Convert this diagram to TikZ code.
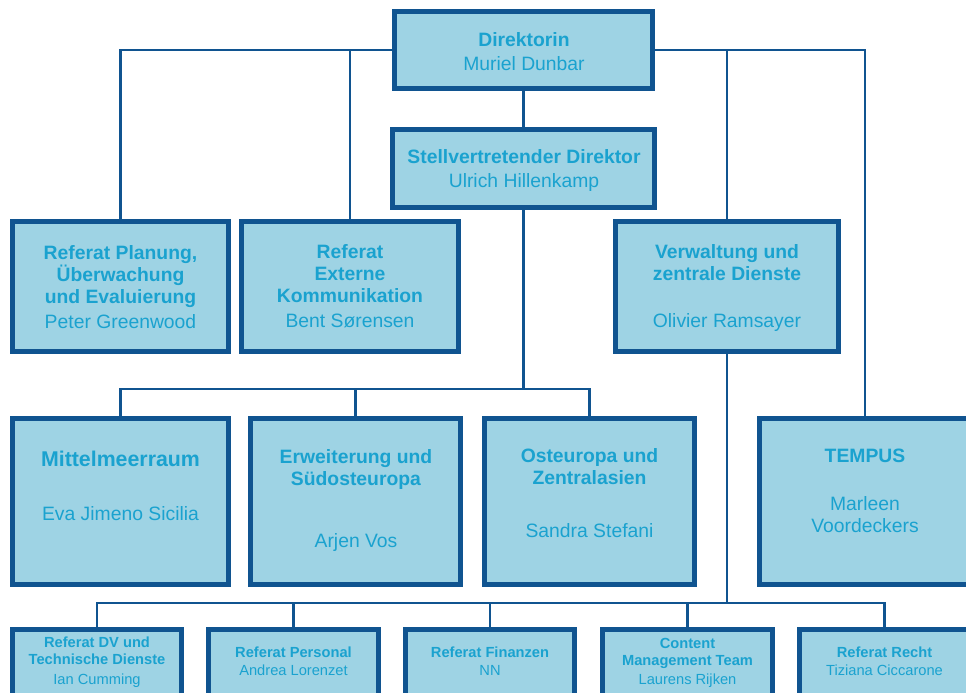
\documentclass[tikz,border=0pt]{standalone}
\usepackage{fontspec}
\setmainfont{Liberation Sans}
\usetikzlibrary{backgrounds,positioning}
\definecolor{orgline}{RGB}{16,84,144}
\definecolor{orgfill}{RGB}{158,211,228}
\definecolor{orgtext}{RGB}{26,162,207}
\tikzset{
  org box/.style 2 args={draw=orgline,fill=orgfill,line width=3.4pt,inner sep=0pt,
    minimum width={#1*0.75pt-3.4pt},minimum height={#2*0.75pt-3.4pt}},
  org link/.style={draw=orgline,line width=2pt},
  org text/.style={text=orgtext,align=center,inner sep=0pt,font=\fontsize{14.5}{16.5}\selectfont},
  org small/.style={text=orgtext,align=center,inner sep=0pt,font=\fontsize{11}{12.75}\selectfont}
}
\begin{document}
\begin{tikzpicture}[x=0.75pt,y=-0.75pt]
  \useasboundingbox (0,0) rectangle (966,692);
  \clip (0,0) rectangle (966,692);
  % leitung
  \node[org box={263}{82}] (dir) at (523.5,50) {};
  \node[org text] (dir-t) at (524,51.5) {\textbf{Direktorin}\\[1pt]Muriel Dunbar};
  \node[org box={267}{83}] (stv) at (523.5,168.5) {};
  \node[org text] (stv-t) at (524,170.5) {\textbf{Stellvertretender Direktor}\\[1pt]Ulrich Hillenkamp};
  % referate oben
  \node[org box={221}{135}] (plan) at (120.5,286.5) {};
  \node[org text] (plan-t) at (120.5,287) {\textbf{Referat Planung,}\\\textbf{Überwachung}\\\textbf{und Evaluierung}\\[2.5pt]Peter Greenwood};
  \node[org box={222}{135}] (ext) at (350,286.5) {};
  \node[org text] (ext-t) at (350,286) {\textbf{Referat}\\\textbf{Externe}\\\textbf{Kommunikation}\\[2.5pt]Bent Sørensen};
  \node[org box={228}{135}] (verw) at (727,286.5) {};
  \node[org text] (verw-t) at (727,287.5) {\textbf{Verwaltung und}\\\textbf{zentrale Dienste}\\[18.75pt]Olivier Ramsayer};
  % regionen
  \node[org box={221}{171}] (mit) at (120.5,501.5) {};
  \node[org text] (mit-t) at (120.5,485.5) {\textbf{\fontsize{16}{18}\selectfont Mittelmeerraum}\\[24pt]Eva Jimeno Sicilia};
  \node[org box={215}{171}] (erw) at (355.5,501.5) {};
  \node[org text] (erw-t) at (356,500) {\textbf{Erweiterung und}\\\textbf{Südosteuropa}\\[30pt]Arjen Vos};
  \node[org box={215}{171}] (ost) at (589.5,501.5) {};
  \node[org text] (ost-t) at (589.5,493) {\textbf{Osteuropa und}\\\textbf{Zentralasien}\\[23.25pt]Sandra Stefani};
  \node[org box={216}{171}] (tem) at (865,501.5) {};
  \node[org text] (tem-t) at (865,491) {\textbf{TEMPUS}\\[19.5pt]Marleen\\Voordeckers};
  % referate unten
  \node[org box={174}{76}] (dv) at (97,665) {};
  \node[org small] (dv-t) at (97,662.5) {\textbf{Referat DV und}\\\textbf{Technische Dienste}\\[2.25pt]Ian Cumming};
  \node[org box={175}{76}] (pers) at (293.5,665) {};
  \node[org small] (pers-t) at (293.5,661.5) {\textbf{Referat Personal}\\[0.75pt]Andrea Lorenzet};
  \node[org box={174}{76}] (fin) at (490,665) {};
  \node[org small] (fin-t) at (490,661.5) {\textbf{Referat Finanzen}\\[0.75pt]NN};
  \node[org box={175}{76}] (cmt) at (687.5,665) {};
  \node[org small] (cmt-t) at (687.5,662.5) {\textbf{Content}\\\textbf{Management Team}\\[1.5pt]Laurens Rijken};
  \node[org box={175}{76}] (recht) at (884.5,665) {};
  \node[org small] (recht-t) at (884.5,661.5) {\textbf{Referat Recht}\\[0.75pt]Tiziana Ciccarone};
  \coordinate (bus2) at (523.5,389);
  \coordinate (bus3) at (727,603);
  \begin{scope}[on background layer]
    \draw[org link] (plan.north) |- (dir.west);
    \draw[org link] (dir.east) -| (tem.north);
    \draw[org link] (ext.north) -- (ext.north |- dir.west);
    \draw[org link] (verw.north) -- (verw.north |- dir.east);
    \draw[org link] (dir.south) -- (stv.north);
    \draw[org link] (stv.south) -- (bus2);
    \draw[org link] (mit.north) |- (bus2) -| (ost.north);
    \draw[org link] (erw.north) -- (erw.north |- bus2);
    \draw[org link] (verw.south) -- (bus3);
    \draw[org link] (dv.north) |- (bus3) -| (recht.north);
    \draw[org link] (pers.north) -- (pers.north |- bus3);
    \draw[org link] (fin.north) -- (fin.north |- bus3);
    \draw[org link] (cmt.north) -- (cmt.north |- bus3);
  \end{scope}
\end{tikzpicture}
\end{document}
